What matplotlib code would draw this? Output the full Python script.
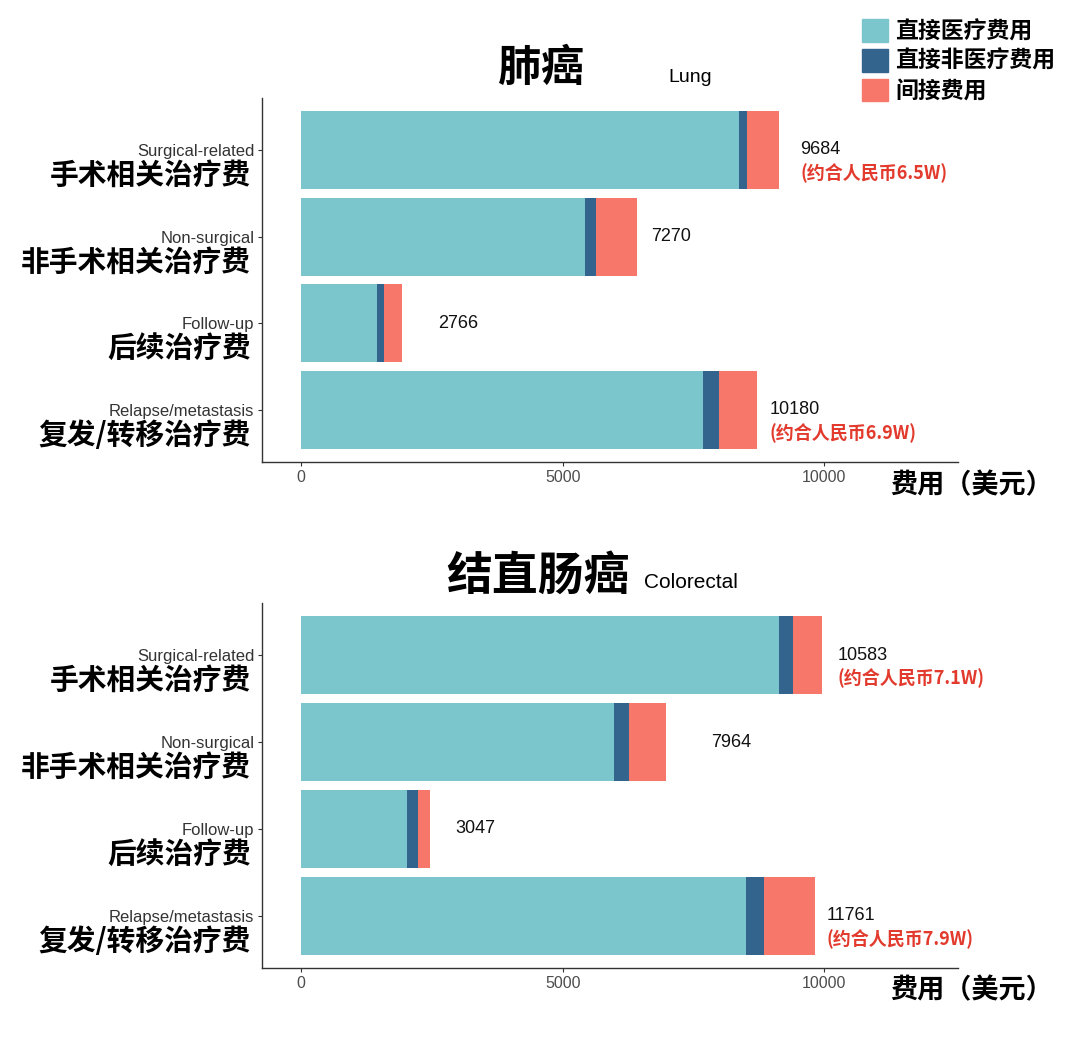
import matplotlib
matplotlib.use('Agg')
import matplotlib.pyplot as plt
from matplotlib.patches import Patch

plt.rcParams['font.family'] = ['Liberation Sans', 'Noto Sans CJK SC', 'DejaVu Sans']
CJK = ['Noto Sans CJK SC', 'DejaVu Sans']

# categories, top to bottom
cats_en = ['Surgical-related', 'Non-surgical', 'Follow-up', 'Relapse/metastasis']
cats_cn = ['手术相关治疗费', '非手术相关治疗费', '后续治疗费', '复发/转移治疗费']
series = ['直接医疗费用', '直接非医疗费用', '间接费用']

# lung cancer (USD)
lung_medical = [8375, 5418, 1454, 7675]
lung_nonmedical = [157, 213, 130, 309]
lung_indirect = [604, 796, 343, 740]
lung_totals = ['9684', '7270', '2766', '10180']
lung_rmb = ['(约合人民币6.5W)', '', '', '(约合人民币6.9W)']

# colorectal cancer (USD)
crc_medical = [9142, 5979, 2014, 8511]
crc_nonmedical = [255, 283, 213, 333]
crc_indirect = [560, 717, 241, 986]
crc_totals = ['10583', '7964', '3047', '11761']
crc_rmb = ['(约合人民币7.1W)', '', '', '(约合人民币7.9W)']

colors = ['#7BC5CC', '#33648D', '#F7786B']
red = '#E23B2E'

W, H = 1080, 1044
fig = plt.figure(figsize=(W / 100, H / 100), dpi=100)


def fx(x):
    return x / W


def fy(y):
    return 1 - y / H


def panel(top, bottom, medical, nonmedical, indirect, totals, rmb, label_x):
    ax = fig.add_axes([fx(262), fy(bottom), (958 - 262) / W, (bottom - top) / H])
    y = list(range(len(cats_en)))
    left3 = [a + b for a, b in zip(medical, nonmedical)]
    ax.barh(y, medical, height=0.9, color=colors[0])
    ax.barh(y, nonmedical, left=medical, height=0.9, color=colors[1])
    ax.barh(y, indirect, left=left3, height=0.9, color=colors[2])

    ax.set_xlim(-750, 12560)
    ax.set_ylim(3.6, -0.6)
    ax.set_xticks([0, 5000, 10000])
    ax.set_xticklabels(['0', '5000', '10000'], fontsize=11.5, color='#4D4D4D')
    ax.set_yticks(y)
    ax.set_yticklabels(cats_en, fontsize=12, color='#333333')
    ax.tick_params(length=3, width=0.8, color='#333333', pad=2.5)
    for s in ['top', 'right']:
        ax.spines[s].set_visible(False)
    for s in ['left', 'bottom']:
        ax.spines[s].set_color('#333333')
        ax.spines[s].set_linewidth(1)

    for i, cn in enumerate(cats_cn):
        ax.annotate(cn, xy=(0, i), xycoords=ax.get_yaxis_transform(),
                    xytext=(-8, -18), textcoords='offset points',
                    ha='right', va='center', fontsize=20.7, fontweight='bold',
                    family=CJK)
        ax.text(label_x[i], i, totals[i], fontsize=13, va='center', ha='left',
                color='#111111')
        if rmb[i]:
            ax.text(label_x[i], i + 0.27, rmb[i], fontsize=13, va='center',
                    ha='left', color=red, fontweight='bold', family=CJK)
    return ax


panel(98, 462, lung_medical, lung_nonmedical, lung_indirect, lung_totals,
      lung_rmb, [9540, 6690, 2620, 8950])
panel(603, 968, crc_medical, crc_nonmedical, crc_indirect, crc_totals,
      crc_rmb, [10260, 7830, 2950, 10040])

# titles
fig.text(fx(541), fy(68), '肺癌', fontsize=31, fontweight='bold', family=CJK,
         ha='center', va='center')
fig.text(fx(668), fy(77), 'Lung', fontsize=14, ha='left', va='center')
fig.text(fx(538), fy(577), '结直肠癌', fontsize=33, fontweight='bold', family=CJK,
         ha='center', va='center')
fig.text(fx(644), fy(582), 'Colorectal', fontsize=15, ha='left', va='center')

# x axis titles
for yy in (485, 990):
    fig.text(fx(890), fy(yy), '费用（美元）', fontsize=19.5, fontweight='bold',
             family=CJK, ha='left', va='center')

handles = [Patch(facecolor=c, edgecolor=c) for c in colors]
fig.legend(handles, series, loc='upper left', bbox_to_anchor=(fx(862), fy(19)),
           frameon=False, prop={'family': CJK, 'weight': 'bold', 'size': 16.5},
           handlelength=1.15, handleheight=1.15, handletextpad=0.3,
           labelspacing=0.25, borderpad=0, borderaxespad=0)

fig.savefig('out.png', dpi=100, facecolor='white')
